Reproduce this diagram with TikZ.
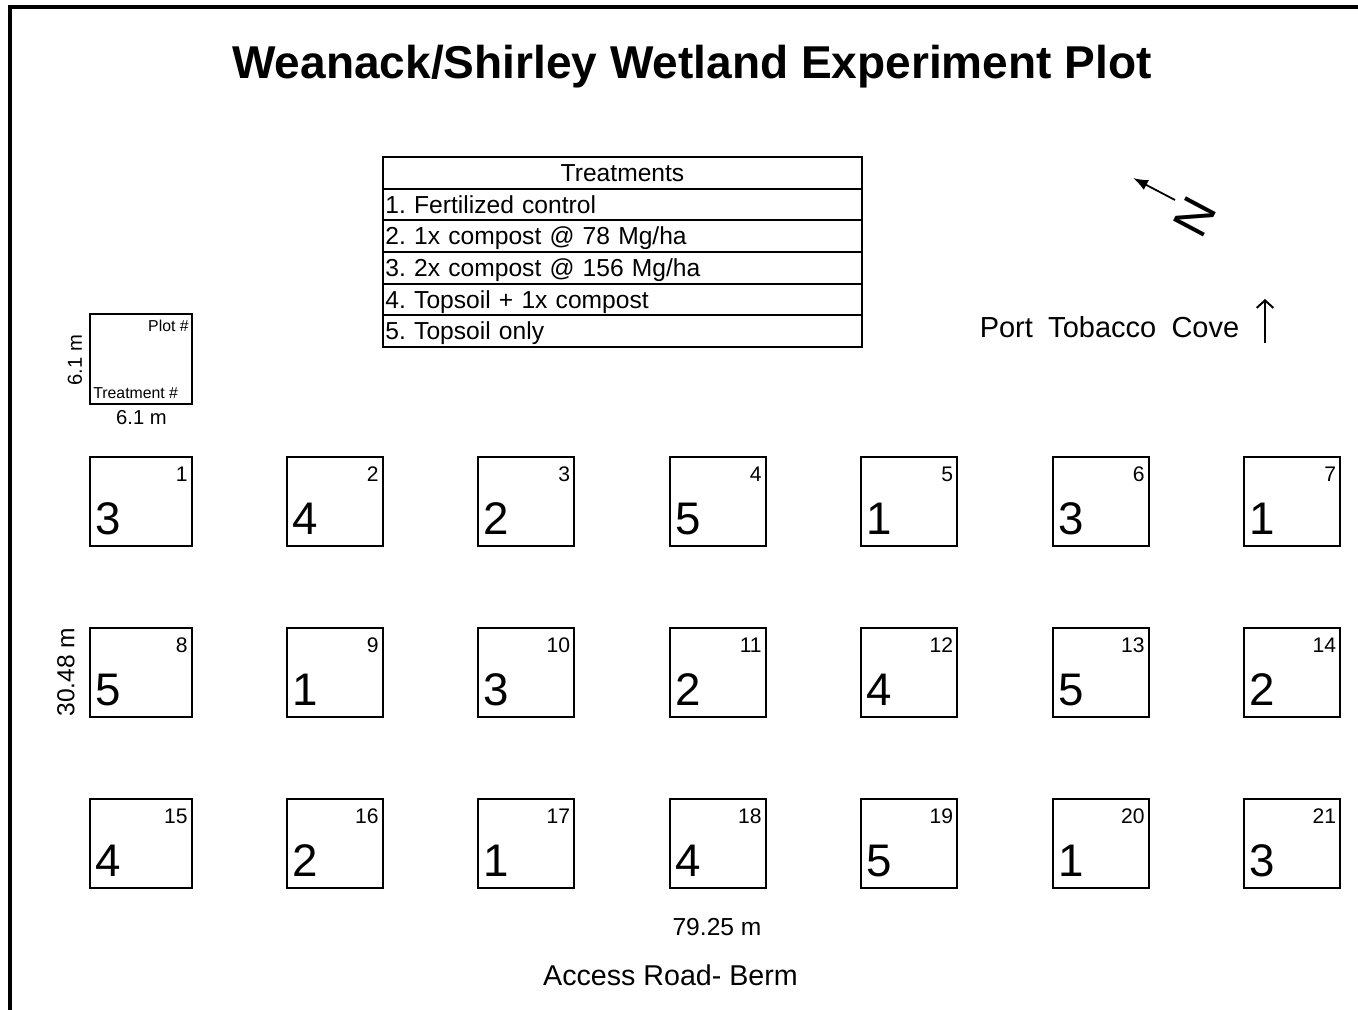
\documentclass[tikz,border=0pt]{standalone}
\usepackage{fontspec}
\setmainfont{Liberation Sans}
\usetikzlibrary{arrows.meta}
\tikzset{
    plotbox/.style={rectangle, draw, line width=0.4mm, minimum width=19.2mm,
    	minimum height=17.8mm, inner sep=0pt},
    widebox/.style={plotbox, minimum width=20.3mm}
}
\tikzset{
    trt/.style={anchor=south west, inner xsep=1.3mm, inner ysep=2.5mm,
    	text height=18.7pt, text depth=0pt, font=\fontsize{26}{28}\selectfont},
    plotno/.style={anchor=north east, inner xsep=0.9mm, inner ysep=2mm,
    	text height=8.6pt, text depth=0pt, font=\fontsize{12}{14}\selectfont}
}
\tikzset{
    trtrow/.style={rectangle, draw, line width=0.4mm, minimum height=6.33mm,
    	inner xsep=0.5mm, text width=94.8mm, text height=10pt, text depth=0pt,
    	align=left, font=\fontsize{14}{16}\selectfont\frenchspacing}
}
\tikzset{
    keytext/.style={inner xsep=0.8mm, inner ysep=1.4mm, font=\fontsize{9}{10}\selectfont},
    dim/.style={inner sep=0pt, font=\fontsize{14}{16}\selectfont}
}

\begin{document}
\begin{tikzpicture}[x=0.2mm, y=-0.2mm]
	\useasboundingbox (0, 0) rectangle (1358, 1010);
	\draw [line width=0.8mm] (10, 1010) -- (10, 7) -- (1358, 7);

	\node (title) [anchor=base, inner sep=0pt, font=\fontsize{26.2}{30}\selectfont\bfseries]
		at (692, 78) {Weanack/Shirley Wetland Experiment Plot};

	\node (trt0) [trtrow, align=center] at (622.5, 172.8) {Treatments};
	\node (trt1) [trtrow] at (622.5, 204.5) {1. Fertilized control};
	\node (trt2) [trtrow] at (622.5, 236.2) {2. 1x compost @ 78 Mg/ha};
	\node (trt3) [trtrow] at (622.5, 267.8) {3. 2x compost @ 156 Mg/ha};
	\node (trt4) [trtrow] at (622.5, 299.5) {4. Topsoil + 1x compost};
	\node (trt5) [trtrow] at (622.5, 331.2) {5. Topsoil only};

	\node (north) [rotate=62, inner sep=0pt, font=\fontsize{28}{30}\selectfont]
		at (1195, 216.5) {N};
	\coordinate (n-tail) at (1175, 200);
	\coordinate (n-tip) at (1133, 178);
	\draw [line width=0.35mm, -{Latex[length=3mm, width=2.2mm]}] (n-tail) -- (n-tip);

	\node (cove) [anchor=base, inner sep=0pt, font=\fontsize{16.5}{18}\selectfont]
		at (1109.5, 337) {Port\hspace{0.25em} Tobacco\hspace{0.25em} Cove};
	\coordinate (cove-tail) at (1265, 343);
	\coordinate (cove-tip) at (1265, 299);
	\draw [line width=0.4mm, -{Straight Barb[length=1.5mm, width=3.3mm]}] (cove-tail) -- (cove-tip);

	\node (key) [plotbox, minimum width=20.4mm, minimum height=18mm,
		label={[keytext, anchor=north east]north east:Plot \#},
		label={[keytext, anchor=south west, inner ysep=1.2mm]south west:Treatment \#}]
		at (141, 359) {};
	\node (key-side) [dim, rotate=90, font=\fontsize{11.5}{13}\selectfont] at (75, 360) {6.1 m};
	\node (key-base) [dim, anchor=base, font=\fontsize{11.5}{13}\selectfont] at (141.5, 424) {6.1 m};

	\node (p1) [widebox, label={[trt]south west:3}, label={[plotno]north east:1}] at (140.8, 501.5) {};
	\node (p2) [plotbox, label={[trt]south west:4}, label={[plotno]north east:2}] at (334.5, 501.5) {};
	\node (p3) [plotbox, label={[trt]south west:2}, label={[plotno]north east:3}] at (526, 501.5) {};
	\node (p4) [plotbox, label={[trt]south west:5}, label={[plotno]north east:4}] at (717.5, 501.5) {};
	\node (p5) [plotbox, label={[trt]south west:1}, label={[plotno]north east:5}] at (909, 501.5) {};
	\node (p6) [plotbox, label={[trt]south west:3}, label={[plotno]north east:6}] at (1100.5, 501.5) {};
	\node (p7) [plotbox, label={[trt]south west:1}, label={[plotno]north east:7}] at (1292, 501.5) {};

	\node (p8) [widebox, label={[trt]south west:5}, label={[plotno]north east:8}] at (140.8, 672.5) {};
	\node (p9) [plotbox, label={[trt]south west:1}, label={[plotno]north east:9}] at (334.5, 672.5) {};
	\node (p10) [plotbox, label={[trt]south west:3}, label={[plotno]north east:10}] at (526, 672.5) {};
	\node (p11) [plotbox, label={[trt]south west:2}, label={[plotno]north east:11}] at (717.5, 672.5) {};
	\node (p12) [plotbox, label={[trt]south west:4}, label={[plotno]north east:12}] at (909, 672.5) {};
	\node (p13) [plotbox, label={[trt]south west:5}, label={[plotno]north east:13}] at (1100.5, 672.5) {};
	\node (p14) [plotbox, label={[trt]south west:2}, label={[plotno]north east:14}] at (1292, 672.5) {};

	\node (p15) [widebox, label={[trt]south west:4}, label={[plotno]north east:15}] at (140.8, 843.5) {};
	\node (p16) [plotbox, label={[trt]south west:2}, label={[plotno]north east:16}] at (334.5, 843.5) {};
	\node (p17) [plotbox, label={[trt]south west:1}, label={[plotno]north east:17}] at (526, 843.5) {};
	\node (p18) [plotbox, label={[trt]south west:4}, label={[plotno]north east:18}] at (717.5, 843.5) {};
	\node (p19) [plotbox, label={[trt]south west:5}, label={[plotno]north east:19}] at (909, 843.5) {};
	\node (p20) [plotbox, label={[trt]south west:1}, label={[plotno]north east:20}] at (1100.5, 843.5) {};
	\node (p21) [plotbox, label={[trt]south west:3}, label={[plotno]north east:21}] at (1292, 843.5) {};

	\node (length) [dim, rotate=90] at (66, 672) {30.48 m};
	\node (width) [dim, anchor=base] at (717, 935) {79.25 m};
	\node (road) [dim, anchor=base, font=\fontsize{16.3}{18}\selectfont] at (670.5, 985) {Access Road- Berm};
\end{tikzpicture}
\end{document}
